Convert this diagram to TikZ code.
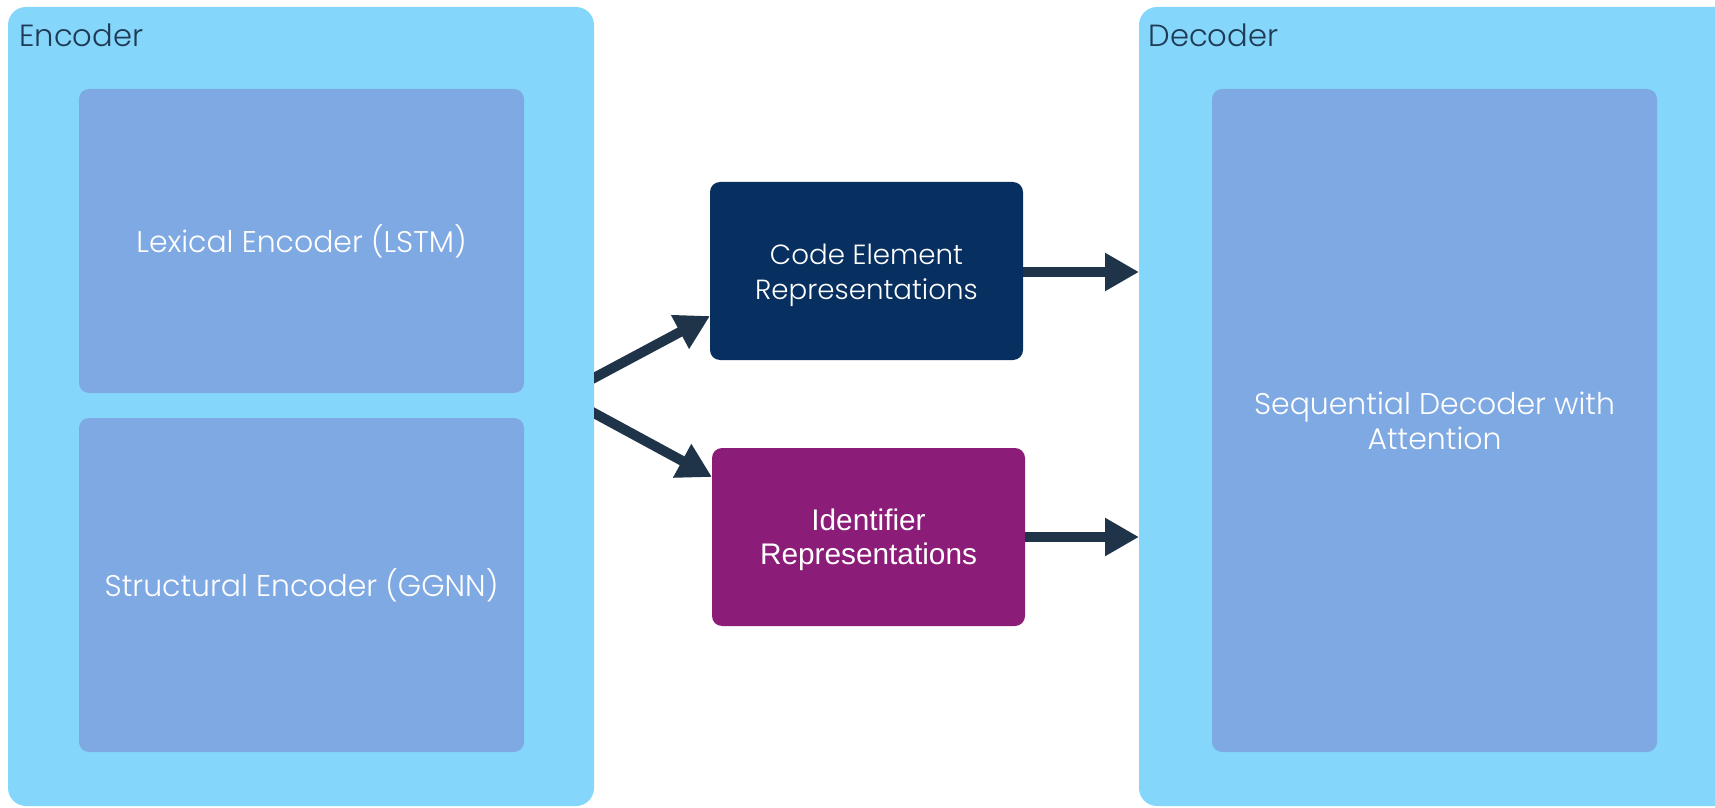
\documentclass[tikz,border=0pt]{standalone}
\usepackage{fontspec}
\setmainfont{Poppins}[UprightFont={* Light}]
\newfontfamily\arialfont{Liberation Sans}
\usetikzlibrary{arrows.meta}
\definecolor{outerblue}{HTML}{84D7FA}
\definecolor{innerblue}{HTML}{7FA9E2}
\definecolor{navybox}{HTML}{072F5F}
\definecolor{plumbox}{HTML}{8B1C78}
\definecolor{arrowdark}{HTML}{1F3449}
\definecolor{labeldark}{HTML}{1F3A55}
\begin{document}
\begin{tikzpicture}[x=0.5pt,y=-0.5pt,
  panel/.style={fill=outerblue, rounded corners=9pt, inner sep=0pt, outer sep=0pt},
  module/.style={fill=innerblue, rounded corners=5pt, inner sep=0pt, outer sep=0pt,
    text=white, align=center, font=\fontsize{14.95}{17.5}\selectfont},
  repbox/.style={rounded corners=5pt, inner sep=0pt, outer sep=0pt,
    minimum width=156.5pt, minimum height=89pt},
  reptext/.style={text=white, align=center, inner sep=0pt},
  flow/.style={draw=arrowdark, line width=5pt, -{Triangle[length=17pt,width=18pt]}},
  title/.style={anchor=base west, text=labeldark, inner sep=0pt,
    font=\fontsize{15.3}{18}\selectfont}]
\clip (0,0) rectangle (1715,808);

% encoder panel and its two modules
\node[panel, minimum width=293pt, minimum height=399.5pt] (enc) at (301,406.5) {};
\node[title] (enct) at (19,47) {Encoder};
\node[module, minimum width=222.5pt, minimum height=152pt] (lex) at (301.5,241)
  {Lexical Encoder (LSTM)};
\node[module, minimum width=222.5pt, minimum height=167pt] (str) at (301.5,585)
  {Structural Encoder (GGNN)};

% decoder panel
\node[panel, minimum width=300.5pt, minimum height=399.5pt] (dec) at (1439.5,406.5) {};
\node[title] (dect) at (1148,47) {Decoder};
\node[module, minimum width=222.5pt, minimum height=331.5pt] (seq) at (1434.5,420.5)
  {Sequential Decoder with\\Attention};

% intermediate representations
\node[repbox, fill=navybox] (cer) at (866.5,271) {};
\node[reptext, font=\fontsize{13.85}{17.5}\selectfont] (certext)
  at ([yshift=-2.2pt]cer.center) {Code Element\\Representations};
\node[repbox, fill=plumbox] (idr) at (868.5,537) {};
\node[reptext, font=\arialfont\fontsize{14.9}{17}\selectfont] (idrtext)
  at ([yshift=-1.6pt]idr.center) {Identifier\\Representations};

% connectors out of the encoder, cut at its right edge
\coordinate (upfrom) at ([xshift=-5pt,yshift=11.6pt]enc.east);
\coordinate (lowfrom) at ([xshift=-5pt,yshift=-0.55pt]enc.east);
\begin{scope}
  \clip (enc.north east) rectangle (dec.south west);
  \draw[flow] (upfrom) -- (cer.west |- 0,316);
  \draw[flow] (lowfrom) -- (idr.west |- 0,477);
\end{scope}

% connectors into the decoder
\draw[flow] (cer.east |- 0,272) -- (dec.west |- 0,272);
\draw[flow] (idr.east) -- (dec.west |- idr.east);
\end{tikzpicture}
\end{document}
